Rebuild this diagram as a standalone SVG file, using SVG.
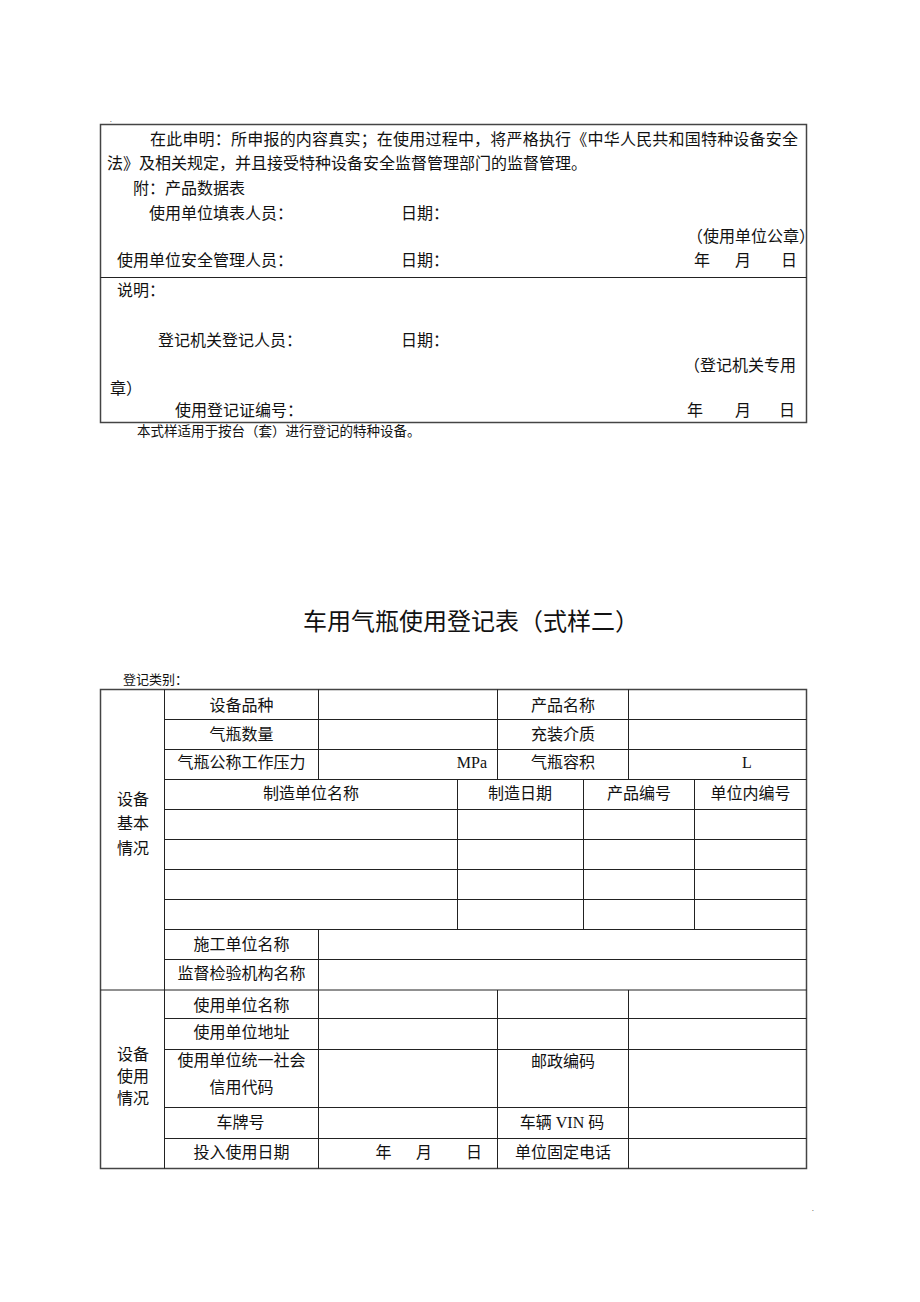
<svg xmlns="http://www.w3.org/2000/svg" width="920" height="1302" viewBox="0 0 920 1302">
<style>
.t{font-family:"Liberation Serif","Noto Sans CJK SC",serif;font-size:16px;fill:#111}
.s{font-family:"Liberation Serif","Noto Sans CJK SC",serif;font-size:13.5px;fill:#111}
.c{text-anchor:middle}
.ttl{font-family:"Noto Sans CJK SC",sans-serif;font-size:24px;fill:#111}
.ln{stroke:#222;stroke-width:1;fill:none}
.ob{stroke:#444;stroke-width:1.5;fill:none}
</style>
<rect width="920" height="1302" fill="#fff"/>
<text x="110" y="122" class="s" style="font-size:7px">.</text>
<text x="812" y="1211" class="s" style="font-size:7px">.</text>

<g id="declaration-box">
<rect x="100.5" y="124.5" width="706" height="298" class="ob"/>
<line x1="100.5" y1="277.5" x2="806.5" y2="277.5" class="ln"/>
<text x="150" y="145" class="t" textLength="648" lengthAdjust="spacing">在此申明：所申报的内容真实；在使用过程中，将严格执行《中华人民共和国特种设备安全</text>
<text x="107" y="169" class="t">法》及相关规定，并且接受特种设备安全监督管理部门的监督管理。</text>
<text x="133" y="194" class="t">附：产品数据表</text>
<text x="149" y="219" class="t">使用单位填表人员：</text>
<text x="401" y="219" class="t">日期：</text>
<text x="687" y="242" class="t">（使用单位公章）</text>
<text x="117" y="266" class="t">使用单位安全管理人员：</text>
<text x="401" y="266" class="t">日期：</text>
<text x="694" y="266" class="t">年</text>
<text x="735" y="266" class="t">月</text>
<text x="781" y="266" class="t">日</text>
<text x="117" y="296" class="t">说明：</text>
<text x="158" y="346" class="t">登记机关登记人员：</text>
<text x="401" y="346" class="t">日期：</text>
<text x="684" y="371" class="t">（登记机关专用</text>
<text x="110" y="394" class="t">章）</text>
<text x="175" y="416" class="t">使用登记证编号：</text>
<text x="687" y="416" class="t">年</text>
<text x="735" y="416" class="t">月</text>
<text x="779" y="416" class="t">日</text>
</g>
<text x="137" y="436" class="s">本式样适用于按台（套）进行登记的特种设备。</text>

<text x="303" y="630" class="ttl">车用气瓶使用登记表（式样二）</text>
<text x="123" y="684" class="s" style="font-size:13px">登记类别：</text>

<g id="table">
<rect x="100.5" y="689.5" width="706" height="479" class="ob"/>
<line x1="100.5" y1="990" x2="806.5" y2="990" class="ln"/>
<line x1="164.5" y1="689.5" x2="164.5" y2="1168.5" class="ln"/>
<line x1="164.5" y1="719.5" x2="806.5" y2="719.5" class="ln"/>
<line x1="164.5" y1="749.5" x2="806.5" y2="749.5" class="ln"/>
<line x1="164.5" y1="779.5" x2="806.5" y2="779.5" class="ln"/>
<line x1="164.5" y1="809.5" x2="806.5" y2="809.5" class="ln"/>
<line x1="164.5" y1="839.5" x2="806.5" y2="839.5" class="ln"/>
<line x1="164.5" y1="869.5" x2="806.5" y2="869.5" class="ln"/>
<line x1="164.5" y1="899.5" x2="806.5" y2="899.5" class="ln"/>
<line x1="164.5" y1="929.5" x2="806.5" y2="929.5" class="ln"/>
<line x1="164.5" y1="959.5" x2="806.5" y2="959.5" class="ln"/>
<line x1="164.5" y1="1018.5" x2="806.5" y2="1018.5" class="ln"/>
<line x1="164.5" y1="1049.5" x2="806.5" y2="1049.5" class="ln"/>
<line x1="164.5" y1="1107.5" x2="806.5" y2="1107.5" class="ln"/>
<line x1="164.5" y1="1138.5" x2="806.5" y2="1138.5" class="ln"/>
<line x1="318.5" y1="689.5" x2="318.5" y2="779.5" class="ln"/>
<line x1="497.5" y1="689.5" x2="497.5" y2="779.5" class="ln"/>
<line x1="628.5" y1="689.5" x2="628.5" y2="779.5" class="ln"/>
<line x1="457.5" y1="779.5" x2="457.5" y2="929.5" class="ln"/>
<line x1="583.5" y1="779.5" x2="583.5" y2="929.5" class="ln"/>
<line x1="694.5" y1="779.5" x2="694.5" y2="929.5" class="ln"/>
<line x1="318.5" y1="929.5" x2="318.5" y2="1168.5" class="ln"/>
<line x1="497.5" y1="990" x2="497.5" y2="1168.5" class="ln"/>
<line x1="628.5" y1="990" x2="628.5" y2="1168.5" class="ln"/>

<text x="133" y="805" class="t c">设备</text>
<text x="133" y="829" class="t c">基本</text>
<text x="133" y="854" class="t c">情况</text>
<text x="241.5" y="711" class="t c">设备品种</text>
<text x="563" y="711" class="t c">产品名称</text>
<text x="241.5" y="740" class="t c">气瓶数量</text>
<text x="563" y="740" class="t c">充装介质</text>
<text x="241.5" y="768" class="t c">气瓶公称工作压力</text>
<text x="487" y="768" class="t" text-anchor="end">MPa</text>
<text x="563" y="768" class="t c">气瓶容积</text>
<text x="742" y="768" class="t">L</text>
<text x="311" y="799" class="t c">制造单位名称</text>
<text x="520" y="799" class="t c">制造日期</text>
<text x="639" y="799" class="t c">产品编号</text>
<text x="750.5" y="799" class="t c">单位内编号</text>
<text x="241.5" y="950" class="t c">施工单位名称</text>
<text x="241.5" y="979" class="t c">监督检验机构名称</text>

<text x="133" y="1060" class="t c">设备</text>
<text x="133" y="1082" class="t c">使用</text>
<text x="133" y="1104" class="t c">情况</text>
<text x="241.5" y="1011" class="t c">使用单位名称</text>
<text x="241.5" y="1038" class="t c">使用单位地址</text>
<text x="241.5" y="1066" class="t c">使用单位统一社会</text>
<text x="241.5" y="1093" class="t c">信用代码</text>
<text x="563" y="1067" class="t c">邮政编码</text>
<text x="240.5" y="1128" class="t c">车牌号</text>
<text x="562" y="1128" class="t c">车辆 VIN 码</text>
<text x="241.5" y="1158" class="t c">投入使用日期</text>
<text x="375.5" y="1158" class="t">年</text>
<text x="416" y="1158" class="t">月</text>
<text x="466" y="1158" class="t">日</text>
<text x="563" y="1158" class="t c">单位固定电话</text>
</g>
</svg>
